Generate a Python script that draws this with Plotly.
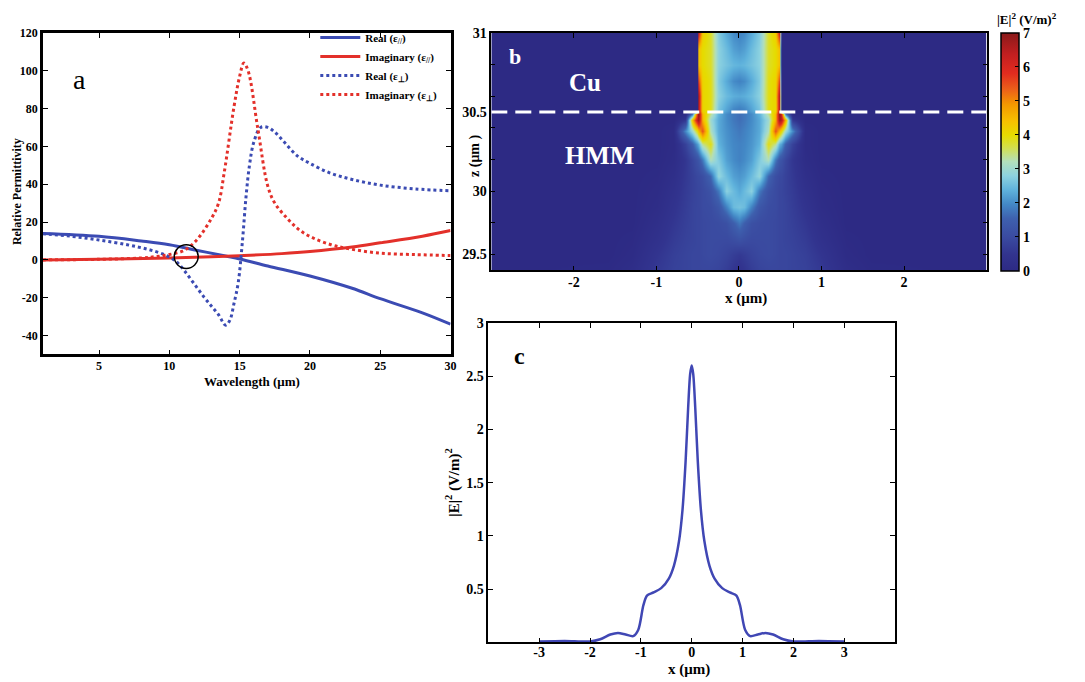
import plotly.graph_objects as go

# the page body has an 8 px margin: positions below are screen pixels, shifted by OFF
OFF = 8
W, H = 1085, 682
BLUE = "#3b4bb3"
RED = "#e3302a"
FONT = "Liberation Serif"

# ---------------- Panel a : relative permittivity ----------------
wl_re_par = [1, 5, 8, 10, 12, 14, 15, 17, 20, 23, 25, 28, 30]
re_par = [14, 12.5, 10, 8, 5, 2, 0.5, -3.2, -8.5, -15, -20.5, -28, -34]

wl_im_par = [1, 5, 10, 13, 15, 18, 20, 23, 25, 28, 30]
im_par = [0, 0.3, 1.0, 1.6, 2.2, 3.3, 4.4, 6.8, 9, 12.5, 15.5]

wl_re_perp = [1, 3, 5, 7, 8.5, 9.7, 10.5, 11.1, 11.8, 12.5, 13.0, 13.5, 14.0, 14.3,
              14.6, 14.9, 15.2, 15.45, 15.7, 16.0, 16.5, 17.0, 17.5, 18.2, 19.1,
              20, 21.4, 23, 25, 27.5, 30]
re_perp = [13.8, 12.5, 10.5, 8, 5.5, 2.6, -1, -6, -13, -20, -24.5, -29, -34.5, -32,
           -23, -12, 10, 33, 50, 62, 70, 70, 67.5, 62, 55, 51, 46, 42.5, 39.5, 37.5, 36.5]

wl_im_perp = [1, 5, 8, 9, 10, 11.1, 12.0, 13.0, 13.5, 13.9, 14.6, 15.0, 15.3, 15.6,
              16.3, 17.0, 17.5, 18.4, 19.3, 20.3, 21.5, 22.6, 24.9, 27.5, 30]
im_perp = [0, 0.3, 1.0, 1.7, 2.8, 5.2, 11, 22, 30, 46, 81, 97, 104, 100, 69, 39, 30,
           21.8, 15.5, 11.3, 8, 6.1, 3.6, 2.8, 2.3]

a_xticks = [5, 10, 15, 20, 25, 30]
a_yticks = [-40, -20, 0, 20, 40, 60, 80, 100, 120]
a_yticktext = ["-40", "-20", "0", "20", "40", "60", "80", "100", "120"]

# ---------------- Panel b : |E|^2 map ----------------
xb = [-3.0, -1.6, -1.3, -1.0, -0.8, -0.65, -0.56, -0.51, -0.49, -0.44, -0.35, -0.25,
      -0.15, -0.07, 0.0, 0.07, 0.15, 0.25, 0.35, 0.44, 0.49, 0.51, 0.56, 0.65, 0.8,
      1.0, 1.3, 1.6, 3.0]
zb = [29.5, 29.6, 29.7, 29.8, 29.9, 30.0, 30.1, 30.2, 30.3, 30.38, 30.45, 30.49,
      30.51, 30.6, 30.7, 30.8, 30.9, 31.0]
Eb = [
    [0, 0.05, 0.2, 0.6, 0.8, 0.85, 0.9, 0.9, 0.9, 0.9, 0.9, 0.85, 0.7, 0.5, 0.4, 0.5, 0.7, 0.85, 0.9, 0.9, 0.9, 0.9, 0.9, 0.85, 0.8, 0.6, 0.2, 0.05, 0],
    [0, 0, 0.1, 0.5, 0.75, 0.85, 0.9, 0.9, 0.9, 0.95, 1.0, 0.95, 0.85, 0.7, 0.6, 0.7, 0.85, 0.95, 1.0, 0.95, 0.9, 0.9, 0.9, 0.85, 0.75, 0.5, 0.1, 0, 0],
    [0, 0, 0.05, 0.35, 0.65, 0.8, 0.85, 0.9, 0.9, 0.95, 1.0, 1.0, 1.0, 1.1, 1.2, 1.1, 1.0, 1.0, 1.0, 0.95, 0.9, 0.9, 0.85, 0.8, 0.65, 0.35, 0.05, 0, 0],
    [0, 0, 0, 0.25, 0.55, 0.75, 0.85, 0.9, 0.9, 0.95, 1.0, 1.05, 1.15, 1.5, 1.8, 1.5, 1.15, 1.05, 1.0, 0.95, 0.9, 0.9, 0.85, 0.75, 0.55, 0.25, 0, 0, 0],
    [0, 0, 0, 0.15, 0.45, 0.7, 0.85, 0.9, 0.9, 1.0, 1.05, 1.3, 1.9, 2.5, 2.6, 2.5, 1.9, 1.3, 1.05, 1.0, 0.9, 0.9, 0.85, 0.7, 0.45, 0.15, 0, 0, 0],
    [0, 0, 0, 0.1, 0.35, 0.65, 0.8, 0.9, 0.9, 1.0, 1.2, 1.8, 2.8, 2.5, 2.3, 2.5, 2.8, 1.8, 1.2, 1.0, 0.9, 0.9, 0.8, 0.65, 0.35, 0.1, 0, 0, 0],
    [0, 0, 0, 0.05, 0.25, 0.6, 0.8, 0.95, 0.95, 1.1, 1.6, 2.9, 2.5, 2.2, 2.1, 2.2, 2.5, 2.9, 1.6, 1.1, 0.95, 0.95, 0.8, 0.6, 0.25, 0.05, 0, 0, 0],
    [0, 0, 0, 0, 0.15, 0.55, 0.9, 1.2, 1.3, 1.8, 3.2, 2.7, 2.2, 2.0, 1.9, 2.0, 2.2, 2.7, 3.2, 1.8, 1.3, 1.2, 0.9, 0.55, 0.15, 0, 0, 0, 0],
    [0, 0, 0, 0, 0.1, 0.8, 1.5, 2.2, 2.4, 3.4, 3.9, 2.4, 2.1, 1.95, 1.9, 1.95, 2.1, 2.4, 3.9, 3.4, 2.4, 2.2, 1.5, 0.8, 0.1, 0, 0, 0, 0],
    [0, 0, 0, 0, 0.1, 2.0, 3.0, 4.0, 4.5, 5.5, 3.2, 2.3, 2.05, 1.9, 1.8, 1.9, 2.05, 2.3, 3.2, 5.5, 4.5, 4.0, 3.0, 2.0, 0.1, 0, 0, 0, 0],
    [0, 0, 0, 0, 0, 0.6, 4.5, 6.5, 6.8, 4.6, 3.0, 2.3, 2.0, 1.8, 1.7, 1.8, 2.0, 2.3, 3.0, 4.6, 6.8, 6.5, 4.5, 0.6, 0, 0, 0, 0, 0],
    [0, 0, 0, 0, 0, 0.1, 1.8, 6.0, 7.0, 4.5, 3.4, 2.4, 2.0, 1.8, 1.7, 1.8, 2.0, 2.4, 3.4, 4.5, 7.0, 6.0, 1.8, 0.1, 0, 0, 0, 0, 0],
    [0, 0, 0, 0, 0, 0, 0, 0, 6.5, 4.1, 3.9, 2.6, 2.2, 1.9, 1.8, 1.9, 2.2, 2.6, 3.9, 4.1, 6.5, 0, 0, 0, 0, 0, 0, 0, 0],
    [0, 0, 0, 0, 0, 0, 0, 0, 6.6, 4.1, 3.9, 2.8, 2.5, 2.35, 2.3, 2.35, 2.5, 2.8, 3.9, 4.1, 6.6, 0, 0, 0, 0, 0, 0, 0, 0],
    [0, 0, 0, 0, 0, 0, 0, 0, 5.6, 4.1, 3.9, 2.7, 2.3, 2.0, 1.9, 2.0, 2.3, 2.7, 3.9, 4.1, 5.6, 0, 0, 0, 0, 0, 0, 0, 0],
    [0, 0, 0, 0, 0, 0, 0, 0, 4.4, 4.0, 3.8, 2.8, 2.6, 2.45, 2.4, 2.45, 2.6, 2.8, 3.8, 4.0, 4.4, 0, 0, 0, 0, 0, 0, 0, 0],
    [0, 0, 0, 0, 0, 0, 0, 0, 4.4, 4.0, 3.8, 2.8, 2.5, 2.2, 2.1, 2.2, 2.5, 2.8, 3.8, 4.0, 4.4, 0, 0, 0, 0, 0, 0, 0, 0],
    [0, 0, 0, 0, 0, 0, 0, 0, 6.2, 4.2, 3.8, 2.7, 2.3, 2.0, 1.9, 2.0, 2.3, 2.7, 3.8, 4.2, 6.2, 0, 0, 0, 0, 0, 0, 0, 0],
]
b_xticks = [-2, -1, 0, 1, 2]
b_xticktext = ["-2", "-1", "0", "1", "2"]
b_ytickvals = [29.6, 30, 30.5, 31]
b_yticktext = ["29.5", "30", "30.5", "31"]
b_yminor = [29.6, 29.8, 30.0, 30.2, 30.4, 30.6, 30.8]
cb_ticks = [0, 1, 2, 3, 4, 5, 6, 7]

jet_like = [
    [0.00, "#2d2a84"], [0.07, "#32348f"], [0.14, "#3a4aa0"], [0.22, "#3e60ae"],
    [0.28, "#4388c6"], [0.34, "#5fb2dc"], [0.40, "#8dd2e0"], [0.46, "#b3dfbb"],
    [0.52, "#d4df4a"], [0.57, "#e6dc00"], [0.63, "#f7c000"], [0.70, "#f39800"],
    [0.76, "#ec6219"], [0.83, "#e22c1f"], [0.91, "#c21f20"], [1.00, "#8a1a1a"],
]

# ---------------- Panel c : |E|^2 profile ----------------
xc = [-3.0, -2.5, -2.0, -1.8, -1.6, -1.45, -1.3, -1.15, -1.05, -0.95, -0.88, -0.75,
      -0.6, -0.45, -0.35, -0.25, -0.18, -0.12, -0.07, -0.03, 0.0, 0.03, 0.07, 0.12,
      0.18, 0.25, 0.35, 0.45, 0.6, 0.75, 0.88, 0.95, 1.05, 1.15, 1.3, 1.45, 1.6, 1.8,
      2.0, 2.5, 3.0]
Ec = [0.01, 0.015, 0.01, 0.03, 0.075, 0.09, 0.075, 0.06, 0.12, 0.35, 0.44, 0.47,
      0.51, 0.6, 0.72, 0.95, 1.25, 1.7, 2.2, 2.52, 2.6, 2.52, 2.2, 1.7, 1.25, 0.95,
      0.72, 0.6, 0.51, 0.47, 0.44, 0.35, 0.12, 0.06, 0.075, 0.09, 0.075, 0.03, 0.01,
      0.015, 0.01]
c_xticks = [-3, -2, -1, 0, 1, 2, 3]
c_xticktext = ["-3", "-2", "-1", "0", "1", "2", "3"]
c_yticks = [0.5, 1, 1.5, 2, 2.5, 3]


def px_x(p):
    return (p - OFF) / W


def px_y(p):
    return 1 - (p - OFF) / H


fig = go.Figure()

# panel a traces
fig.add_trace(go.Scatter(x=wl_re_par, y=re_par, mode="lines", name="Real (ε<sub>//</sub>)",
                         line=dict(color=BLUE, width=3, shape="spline"), xaxis="x", yaxis="y"))
fig.add_trace(go.Scatter(x=wl_im_par, y=im_par, mode="lines", name="Imaginary (ε<sub>//</sub>)",
                         line=dict(color=RED, width=3, shape="spline"), xaxis="x", yaxis="y"))
fig.add_trace(go.Scatter(x=wl_re_perp, y=re_perp, mode="lines", name="Real (ε<sub>⊥</sub>)",
                         line=dict(color=BLUE, width=3, dash="dot", shape="spline"), xaxis="x", yaxis="y"))
fig.add_trace(go.Scatter(x=wl_im_perp, y=im_perp, mode="lines", name="Imaginary (ε<sub>⊥</sub>)",
                         line=dict(color=RED, width=3, dash="dot", shape="spline"), xaxis="x", yaxis="y"))

# panel b heatmap
fig.add_trace(go.Heatmap(
    x=xb, y=zb, z=Eb, zmin=0, zmax=7, colorscale=jet_like, zsmooth="best",
    xaxis="x2", yaxis="y2", showlegend=False, hoverinfo="skip",
    colorbar=dict(x=px_x(1007), xanchor="left", y=px_y(26), yanchor="top",
                  len=240 / H, lenmode="fraction", thickness=18, thicknessmode="pixels",
                  tickvals=cb_ticks, ticks="inside", ticklen=4, tickcolor="black",
                  outlinecolor="black", outlinewidth=1.5, xpad=0, ypad=0,
                  tickfont=dict(size=14, family=FONT, color="black", weight="bold")),
))

# panel c profile
fig.add_trace(go.Scatter(x=xc, y=Ec, mode="lines", showlegend=False,
                         line=dict(color="#4047b4", width=2.5, shape="spline", smoothing=0.8),
                         xaxis="x3", yaxis="y3"))

axis_common = dict(showline=True, linecolor="black", mirror="ticks", ticks="inside",
                   tickcolor="black", showgrid=False, zeroline=False)

fig.update_layout(
    width=W, height=H,
    margin=dict(l=0, r=0, t=0, b=0),
    paper_bgcolor="white", plot_bgcolor="white",
    font=dict(family=FONT, color="black", size=12, weight="bold"),
    xaxis=dict(domain=[px_x(43), px_x(453)], anchor="y", range=[1, 30], tickvals=a_xticks,
               linewidth=2.5, ticklen=5, tickfont=dict(size=12), ticklabelstandoff=-2,
               **axis_common),
    yaxis=dict(domain=[px_y(351), px_y(26)], anchor="x", range=[-50, 120], tickvals=a_yticks,
               ticktext=a_yticktext, linewidth=2.5, ticklen=5, tickfont=dict(size=12),
               **axis_common),
    xaxis2=dict(domain=[px_x(494), px_x(992)], anchor="y2", range=[-3, 3], tickvals=b_xticks,
                ticktext=b_xticktext, linewidth=1.5, ticklen=5, tickfont=dict(size=14),
                ticklabelstandoff=-2, **axis_common),
    yaxis2=dict(domain=[px_y(266), px_y(26)], anchor="x2", range=[29.5, 31],
                tickvals=b_ytickvals, ticktext=b_yticktext, ticklen=0,
                minor=dict(tickvals=b_yminor, ticks="inside", ticklen=4, tickcolor="black"),
                linewidth=1.5, tickfont=dict(size=14), **axis_common),
    xaxis3=dict(domain=[px_x(491), px_x(900)], anchor="y3", range=[-4, 4], tickvals=c_xticks,
                ticktext=c_xticktext, linewidth=1.5, ticklen=5, tickfont=dict(size=14),
                ticklabelstandoff=-4, **axis_common),
    yaxis3=dict(domain=[px_y(642), px_y(319)], anchor="x3", range=[0, 3], tickvals=c_yticks,
                linewidth=1.5, ticklen=5, tickfont=dict(size=14), **axis_common),
    legend=dict(x=px_x(317), y=px_y(16), xanchor="left", yanchor="top", itemwidth=40,
                bgcolor="rgba(0,0,0,0)", font=dict(size=11), tracegroupgap=0),
    showlegend=True,
)

# shapes
fig.add_shape(type="circle", xref="x", yref="y", x0=10.35, x1=12.05, y0=-4.5, y1=8.0,
              line=dict(color="black", width=1.5))
fig.add_shape(type="line", xref="x2", yref="y2", x0=-3, x1=3, y0=30.5, y1=30.5,
              line=dict(color="white", width=3, dash="16px,8px"))

# annotations (labels and axis titles)
ann = [
    dict(text="a", x=px_x(80), y=px_y(73), font=dict(size=28, weight="normal")),
    dict(text="Relative Permittivity", x=px_x(17), y=px_y(186), textangle=-90, font=dict(size=12)),
    dict(text="Wavelength (μm)", x=px_x(253), y=px_y(378), font=dict(size=13)),
    dict(text="b", x=px_x(518), y=px_y(50), font=dict(size=22, color="white")),
    dict(text="Cu", x=px_x(588), y=px_y(76), font=dict(size=25, color="white")),
    dict(text="HMM", x=px_x(603), y=px_y(150), font=dict(size=26, color="white")),
    dict(text="x (μm)", x=px_x(750), y=px_y(294), font=dict(size=15)),
    dict(text="z (μm )", x=px_x(477), y=px_y(150), textangle=-90, font=dict(size=14)),
    dict(text="|E|<sup>2</sup> (V/m)<sup>2</sup>", x=px_x(1033), y=px_y(12), font=dict(size=13)),
    dict(text="c", x=px_x(522), y=px_y(353), font=dict(size=24)),
    dict(text="x (μm)", x=px_x(693), y=px_y(669), font=dict(size=15)),
    dict(text="|E|<sup>2</sup> (V/m)<sup>2</sup>", x=px_x(455), y=px_y(481), textangle=-90, font=dict(size=15)),
]
for a in ann:
    fig.add_annotation(xref="paper", yref="paper", showarrow=False, xanchor="center",
                       yanchor="middle", **a)

fig.write_html("out.html")
